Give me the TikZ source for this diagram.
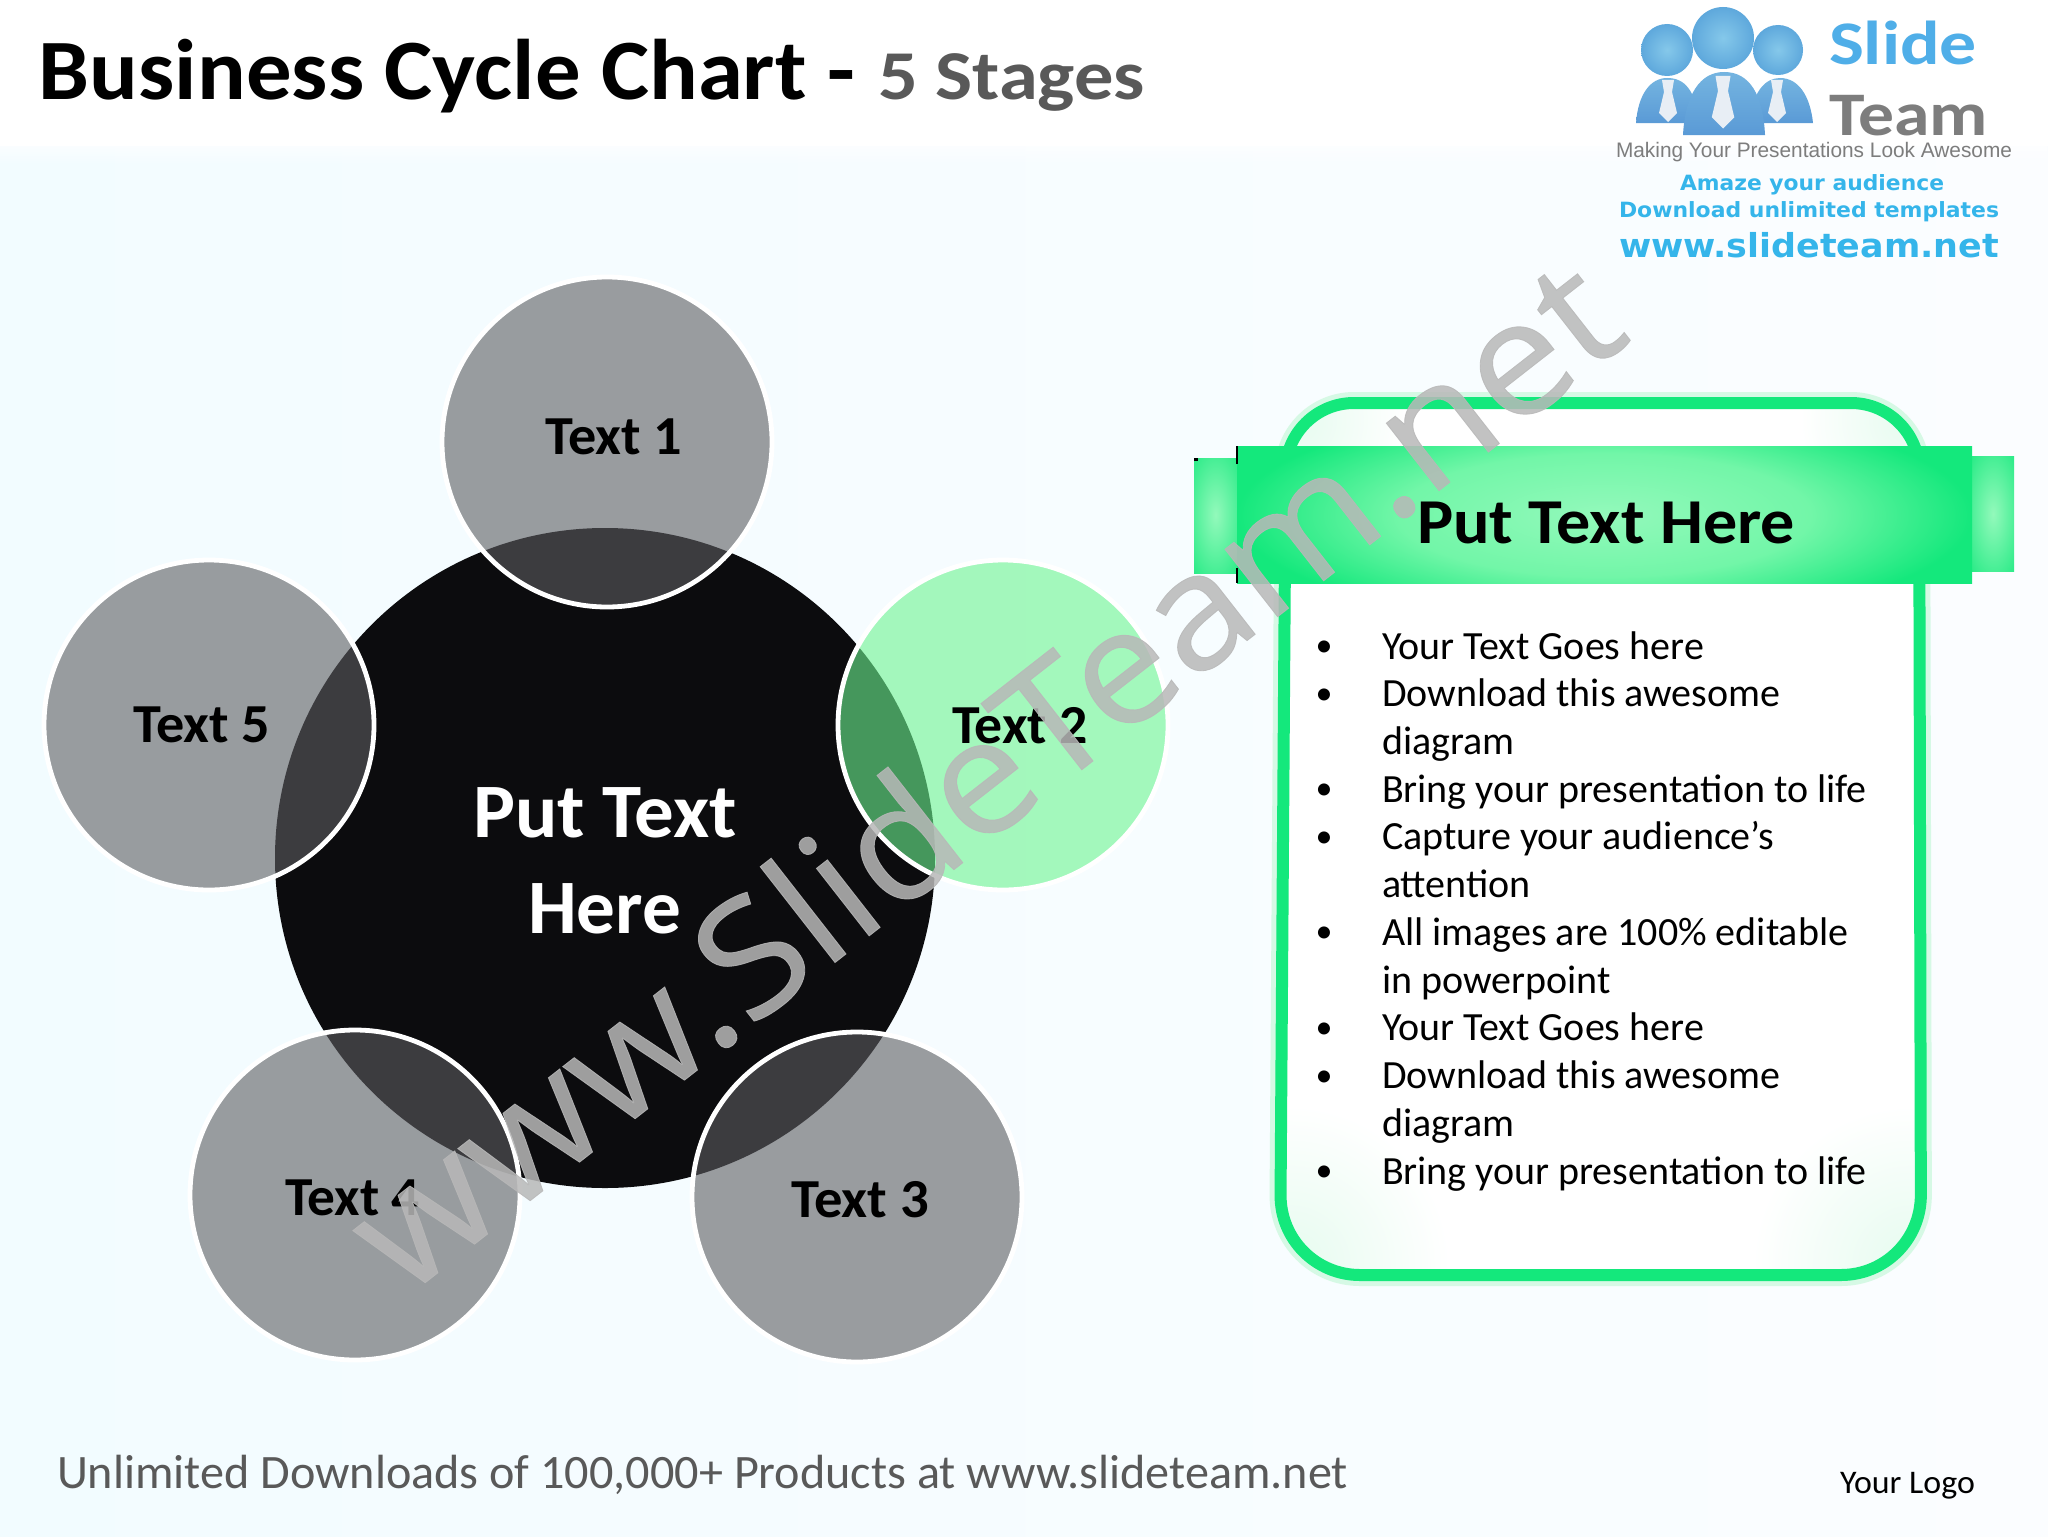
\documentclass[tikz,border=0pt]{standalone}
\usepackage{fontspec}
\usepackage{graphicx}
\setmainfont{Carlito}
\newfontfamily\wmfont[FakeBold=0.5]{Open Sans}
\newfontfamily\arialf{Liberation Sans}
\newfontfamily\djv{DejaVu Sans}
\usetikzlibrary{shapes.geometric,fadings}
\definecolor{bgl}{HTML}{F2FCFF}
\definecolor{bgr}{HTML}{FBFDFF}
\definecolor{bub}{HTML}{5C5C60}
\definecolor{bubg}{HTML}{6CF590}
\definecolor{core}{HTML}{0C0C0E}
\definecolor{panelg}{HTML}{14E87C}
\definecolor{halo}{HTML}{D6F9E5}
\definecolor{glow}{HTML}{E6FBEF}
\definecolor{bannerl}{HTML}{93F9BB}
\definecolor{bannerm}{HTML}{72F6A8}
\definecolor{titleg}{HTML}{595959}
\definecolor{wm}{HTML}{B8B8B8}
\definecolor{logoblue}{HTML}{4FAEE8}
\definecolor{logogray}{HTML}{7D7D7D}
\definecolor{logocyan}{HTML}{35B5EA}
\definecolor{headl}{HTML}{85C8EA}
\definecolor{headd}{HTML}{5EA8DC}
\definecolor{bodyl}{HTML}{74B4E0}
\definecolor{bodyd}{HTML}{5A9AD6}
\definecolor{tiec}{HTML}{E8EEF5}
\pgfdeclareradialshading{bannershade}{\pgfpoint{0bp}{0bp}}{color(0bp)=(bannerl); color(14bp)=(bannerm); color(25bp)=(panelg); color(50bp)=(panelg)}
\newcommand{\pxw}[2]{\resizebox{#1pt}{\height}{#2}}
\newcommand{\panelpath}{[rounded corners=34pt] (1286,403) -- (1919,403) [rounded corners=40pt] -- (1921,1275) -- (1280,1275) [rounded corners=34pt] -- cycle}
\tikzset{
  txt/.style={inner sep=0pt,outer sep=0pt,anchor=base west},
  ctxt/.style={inner sep=0pt,outer sep=0pt,anchor=base},
  bubble/.style={circle,minimum size=165pt,inner sep=0pt,outer sep=0pt,draw=white,line width=2.4pt,fill=bub,fill opacity=0.6},
  bubblegreen/.style={bubble,fill=bubg},
  head/.style={inner color=headl,outer color=headd},
  bodyshape/.style={top color=bodyl,bottom color=bodyd},
  tieshape/.style={fill=tiec},
  lab/.style={txt,font=\fontsize{27.5}{30}\selectfont\bfseries,text=black},
  li/.style={txt,font=\fontsize{20}{23}\selectfont,text=black},
  bul/.style={ctxt,font=\fontsize{17}{23}\selectfont,text=black},
}
\begin{document}
\begin{tikzpicture}[x=0.5pt,y=-0.5pt]
\useasboundingbox (0,0) rectangle (2048,1536);
% background
\shade[left color=bgl,right color=bgr] (0,146) rectangle (2048,1536);
\fill[white] (0,0) rectangle (2048,135);
\fill[white,path fading=south] (0,135) rectangle (2048,165);
% title
\node[txt,font=\fontsize{43}{48}\selectfont\bfseries] (title) at (39,99) {\pxw{408}{Business Cycle Chart -}};
\node[txt,font=\fontsize{35}{40}\selectfont\bfseries,text=titleg] (title2) at (878,100) {\pxw{133.5}{5 Stages}};
% core + bubbles
\node[circle,minimum size=330pt,inner sep=0pt,outer sep=0pt,fill=core] (core) at (605,858) {};
\node[bubble] (b1) at (607,442) {};
\node[bubblegreen] (b2) at (1003,725) {};
\node[bubble] (b3) at (857,1197) {};
\node[bubble] (b4) at (355,1195) {};
\node[bubble] (b5) at (209,725) {};
\node[lab] (t1) at (545,454) {\pxw{68.5}{Text 1}};
\node[lab] (t2) at (952,743) {\pxw{68}{Text 2}};
\node[lab] (t3) at (791,1217) {\pxw{69}{Text 3}};
\node[lab] (t4) at (285,1215) {\pxw{67.5}{Text 4}};
\node[lab] (t5) at (133,742) {\pxw{68.5}{Text 5}};
\node[txt,font=\fontsize{38.5}{40}\selectfont\bfseries,text=white] (c1) at (473,837) {\pxw{132}{Put Text}};
\node[txt,font=\fontsize{38.5}{40}\selectfont\bfseries,text=white] (c2) at (528,933) {\pxw{76.5}{Here}};
% panel
\draw[halo,line width=11pt] \panelpath;
\fill[white] \panelpath;
\begin{scope}
\clip \panelpath;
\shade[inner color=glow,outer color=white] (1290,1265) circle[radius=160];
\shade[inner color=glow,outer color=white] (1912,1265) circle[radius=160];
\shade[inner color=glow,outer color=white] (1295,420) circle[radius=110];
\shade[inner color=glow,outer color=white] (1910,420) circle[radius=110];
\end{scope}
\draw[panelg,line width=6pt] \panelpath;
% side tabs
\begin{scope}
\clip (1194,458) rectangle (1237,573);
\shade[inner color=bannerl,outer color=panelg] (1176,420) rectangle (1255,610);
\end{scope}
\begin{scope}
\clip (1972,456) rectangle (2014,571);
\shade[inner color=bannerl,outer color=panelg] (1954,420) rectangle (2032,608);
\end{scope}
% banner
\begin{scope}
\clip (1237,446) rectangle (1972,583);
\shade[shading=bannershade] (1237,405) rectangle (1972,625);
\end{scope}
\draw[black,line width=0.8pt] (1237,446) -- (1237,464) (1237,568) -- (1237,583);
\fill[black] (1194,458) rectangle (1198,461);
\node[txt,font=\fontsize{32}{36}\selectfont\bfseries] (bt) at (1417,543) {\pxw{189}{Put Text Here}};
% list
\foreach \n/\s/\b in {0/Your Text Goes here/1,1/Download this awesome/1,2/diagram/0,3/Bring your presentation to life/1,4/Capture your audience’s/1,5/attention/0,6/All images are 100\% editable/1,7/in powerpoint/0,8/Your Text Goes here/1,9/Download this awesome/1,10/diagram/0,11/Bring your presentation to life/1}{
  \pgfmathsetmacro{\yy}{659+47.73*\n}
  \pgfmathsetmacro{\yb}{\yy-2.5}
  \node[li] (li\n) at (1382,\yy) {\s};
  \ifnum\b=1 \node[bul] (bu\n) at (1324,\yb) {•}; \fi
}
% footer
\node[txt,font=\fontsize{24}{28}\selectfont,text=titleg] (foot) at (57,1488) {\pxw{645.5}{Unlimited Downloads of 100,000+ Products at www.slideteam.net}};
\node[txt,font=\fontsize{16.5}{20}\selectfont,text=black] (logo) at (1840,1493) {\pxw{67.5}{Your Logo}};
% logo people
\shade[bodyshape] (1750,123) .. controls (1752,92) and (1765,78) .. (1780,78) .. controls (1798,78) and (1810,95) .. (1813,123) -- cycle;
\shade[bodyshape] (1636,123) .. controls (1638,95) and (1650,78) .. (1667,78) .. controls (1685,78) and (1695,90) .. (1700,123) -- cycle;
\shade[head] (1667,50) circle[radius=26];
\shade[head] (1778,50) circle[radius=25];
\shade[bodyshape] (1683,135) .. controls (1685,95) and (1700,72) .. (1724,72) .. controls (1750,72) and (1763,95) .. (1765,135) -- cycle;
\shade[head] (1723,38) circle[radius=31];
\foreach \tx/\ty/\ts in {1668/80/1,1723/76/1.25,1777/80/1}{
  \fill[tieshape] (\tx-6*\ts,\ty) -- (\tx+6*\ts,\ty) -- (\tx+4*\ts,\ty+12*\ts) -- (\tx+9*\ts,\ty+33*\ts) -- (\tx,\ty+42*\ts) -- (\tx-9*\ts,\ty+33*\ts) -- (\tx-4*\ts,\ty+12*\ts) -- cycle;
}
% logo text
\node[txt,font=\fontsize{31}{36}\selectfont\bfseries,text=logoblue] (ls) at (1829,65) {\pxw{74}{Slide}};
\node[txt,font=\fontsize{31}{36}\selectfont\bfseries,text=logogray] (lt) at (1829,135) {\pxw{79.5}{Team}};
\node[txt,font=\fontsize{10.5}{12}\selectfont\arialf,text=logogray] (lm) at (1616,157) {\pxw{198}{Making Your Presentations Look Awesome}};
\node[txt,font=\fontsize{10.5}{12}\selectfont\djv\bfseries,text=logocyan] (la) at (1680,190) {\pxw{132}{Amaze your audience}};
\node[txt,font=\fontsize{10.5}{12}\selectfont\djv\bfseries,text=logocyan] (ld) at (1619,217) {\pxw{190}{Download unlimited templates}};
\node[txt,font=\fontsize{16.5}{20}\selectfont\djv\bfseries,text=logocyan] (lw) at (1619,257) {\pxw{190}{www.slideteam.net}};
% watermark
\node[inner sep=0pt,outer sep=0pt,rotate=38,font=\fontsize{80}{90}\selectfont\wmfont,text=wm,text opacity=0.85] (wm) at (982,772) {\scalebox{1.07}[1]{www.SlideTeam.net}};
\end{tikzpicture}
\end{document}
